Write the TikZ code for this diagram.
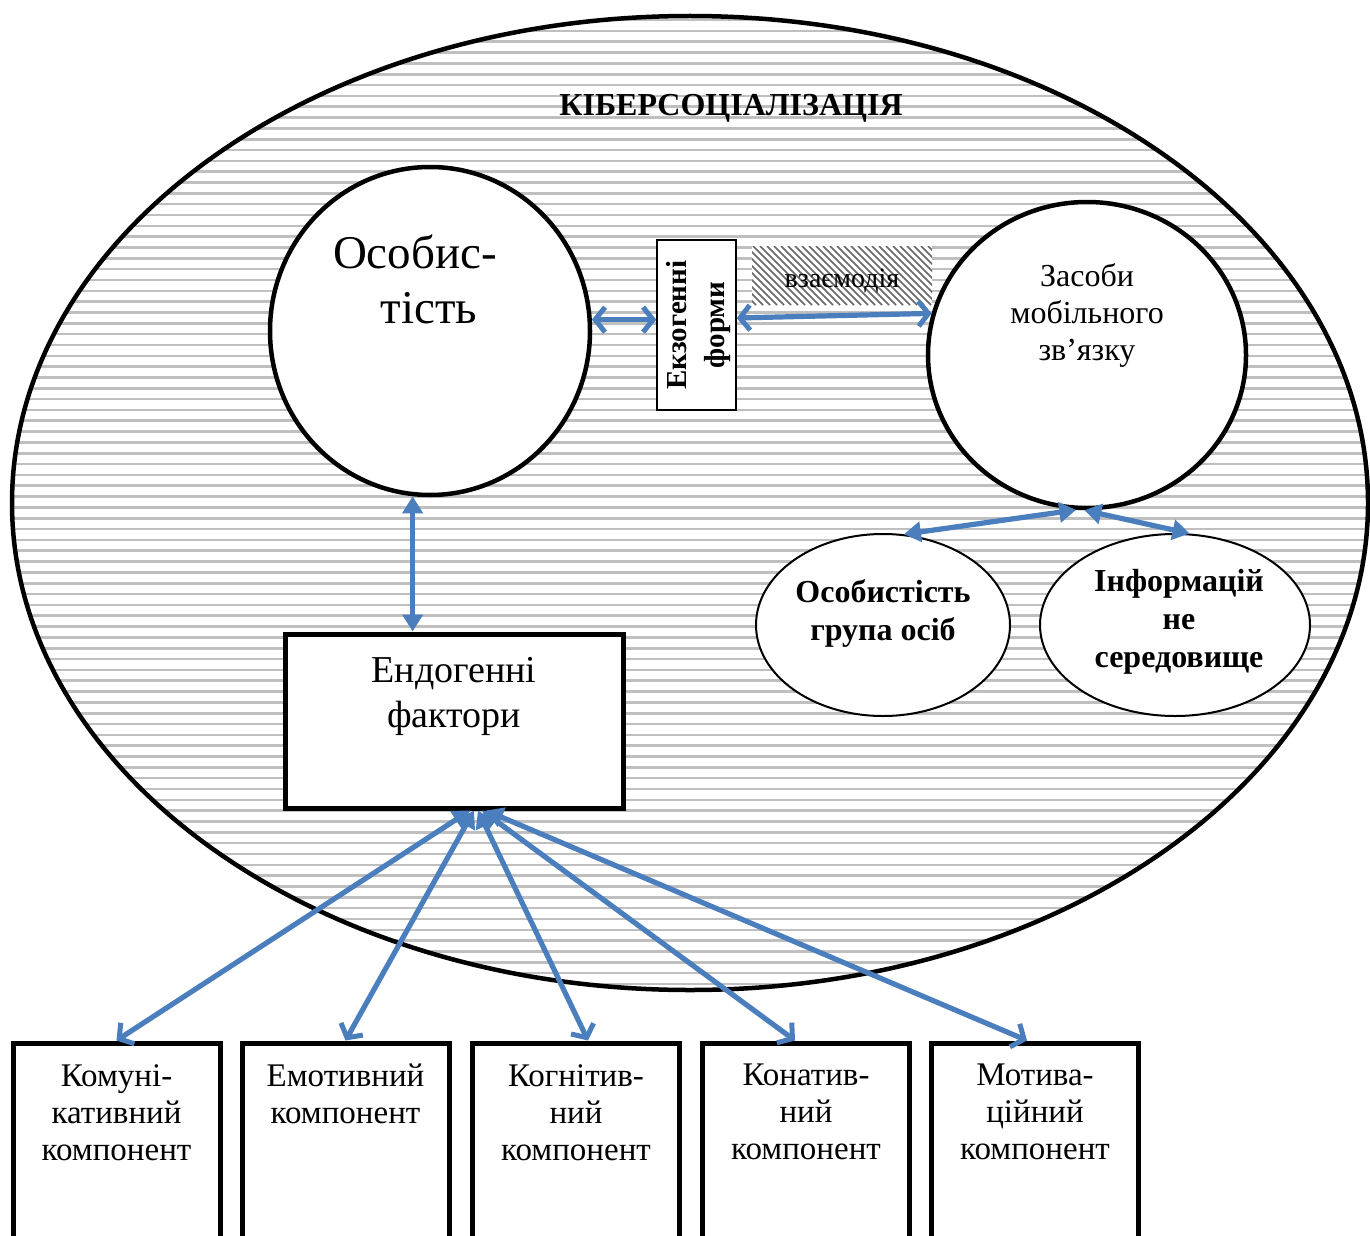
\documentclass[tikz,border=0pt]{standalone}
\usepackage{fontspec}
\setmainfont{Liberation Serif}
\usetikzlibrary{arrows.meta,shapes.geometric}
\definecolor{ablue}{RGB}{74,126,189}
\begin{document}
\begin{tikzpicture}[x=1pt,y=-1pt,
  link/.style={draw=ablue,line width=5.2pt},
  both/.style={link,{Triangle[length=17pt,width=20pt]}-{Triangle[length=17pt,width=20pt]}},
  bothB/.style={link,{Straight Barb[length=10pt,width=25pt,line width=5pt]}-{Straight Barb[length=10pt,width=25pt,line width=5pt]}},
  tb/.style={link,{Triangle[length=17pt,width=20pt]}-{Straight Barb[length=10pt,width=25pt,line width=5pt]}},
  stripe/.style={draw=black!25,line width=2.6pt},
  hatch/.style={draw=black!60,line width=1.6pt},
  circ/.style={ellipse,draw,line width=4.5pt,fill=white,inner sep=0pt},
  smallell/.style={ellipse,draw,line width=2pt,fill=white,inner sep=0pt,minimum height=182pt},
  comp/.style={draw,line width=5pt,fill=white,inner sep=0pt,minimum width=207pt,minimum height=217pt},
  comptext/.style={anchor=north,align=center,font=\fontsize{33}{37}\selectfont,inner sep=0pt},
  boldtext/.style={anchor=north,align=center,font=\bfseries\fontsize{32}{38}\selectfont,inner sep=0pt}
]
\useasboundingbox (0,0) rectangle (1370,1236);
\clip (0,0) rectangle (1370,1236);
\fill[white] (0,0) rectangle (1370,1236);

% big ellipse with horizontal stripes
\fill[white] (690,503) ellipse [x radius=678pt, y radius=487pt];
\begin{scope}
  \clip (690,503) ellipse [x radius=678pt, y radius=487pt];
  \foreach \k in {-34,...,55} \draw[stripe] (0,{388.3+10.83*\k}) -- (1370,{388.3+10.83*\k});
\end{scope}
\node[ellipse,draw,line width=4.5pt,inner sep=0pt,minimum width=1356pt,minimum height=974pt] (big) at (690,503) {};

\node[anchor=base,font=\bfseries\fontsize{32}{36}\selectfont,inner sep=0pt] (title) at (731,116) {КІБЕРСОЦІАЛІЗАЦІЯ};

% circles
\node[circ,minimum width=320pt,minimum height=328pt] (os) at (430,331) {};
\node[anchor=north,align=center,font=\fontsize{47}{55}\selectfont,inner sep=0pt] (ostext) at (415,235) {Особис-\\\hspace*{28pt}тість};
\node[circ,minimum width=318pt,minimum height=306pt] (zs) at (1087,355) {};
\node[anchor=north,align=center,font=\fontsize{32}{37}\selectfont,inner sep=0pt] (zstext) at (1087,263) {Засоби\\мобільного\\зв’язку};

% exogenous box
\node[draw,line width=1.5pt,fill=white,minimum width=79pt,minimum height=170pt,inner sep=0pt] (ex) at (696.5,325) {};
\node[rotate=90,align=center,font=\bfseries\fontsize{29}{38}\selectfont,inner sep=0pt] (extext) at (699,325) {Екзогенні\\форми};

% interaction hatched box
\begin{scope}
  \clip (752,246) rectangle (932,305);
  \fill[white] (752,246) rectangle (932,305);
  \foreach \k in {0,...,35} \draw[hatch] ({690+7*\k},246) -- ({749+7*\k},305);
\end{scope}
\node[anchor=base,font=\fontsize{28}{34}\selectfont,inner sep=0pt] (vz) at (842,287) {взаємодія};

% endogenous box
\node[draw,line width=5pt,fill=white,minimum width=338pt,minimum height=174pt,inner sep=0pt] (en) at (454,721) {};
\node[anchor=north,align=center,font=\fontsize{38}{45}\selectfont,inner sep=0pt] (entext) at (454,657) {Ендогенні\\фактори};

% small ellipses
\node[smallell,minimum width=254pt] (oe1) at (883,625) {};
\node[boldtext] (oe1text) at (883,579) {Особистість\\група осіб};
\node[smallell,minimum width=270pt] (oe2) at (1175,625) {};
\node[boldtext] (oe2text) at (1179,569) {Інформацій\\не\\середовище};

% components
\node[comp] (c1) at (116.5,1151.5) {};
\node[comp] (c2) at (345.5,1151.5) {};
\node[comp] (c3) at (576,1151.5) {};
\node[comp] (c4) at (806,1151.5) {};
\node[comp] (c5) at (1035,1151.5) {};
\node[comptext] (t1) at (116.5,1064) {Комуні-\\кативний\\компонент};
\node[comptext] (t2) at (345.5,1064) {Емотивний\\компонент};
\node[comptext] (t3) at (576,1064) {Когнітив-\\ний\\компонент};
\node[comptext] (t4) at (806,1064) {Конатив-\\ний\\компонент};
\node[comptext] (t5) at (1035,1064) {Мотива-\\ційний\\компонент};

% connectors
\draw[bothB] (os.4) -- (os.4 -| ex.west);
\draw[bothB] ([yshift=7pt]ex.east) -- (zs.165);
\draw[both] (os.264) -- (os.264 |- en.north);
\draw[both] (zs.266) -- (oe1.77);
\draw[both] (zs.269) -- (oe2.81);
\draw[tb] ([xshift=16pt]en.south) -- (c1.north);
\draw[tb] ([xshift=20pt]en.south) -- (c2.north);
\draw[tb] ([xshift=24pt]en.south) -- ([xshift=12pt]c3.north);
\draw[tb] ([xshift=28pt]en.south) -- ([xshift=-11pt]c4.north);
\draw[tb] ([xshift=32pt]en.south) -- ([xshift=-8pt]c5.north);
\end{tikzpicture}
\end{document}
